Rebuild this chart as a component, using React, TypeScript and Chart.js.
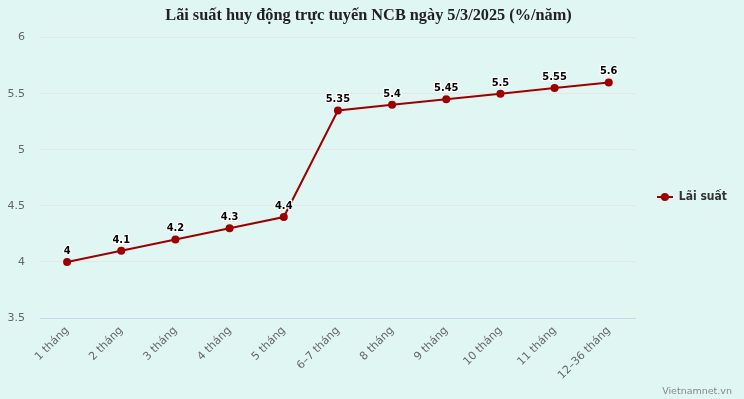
import React, { useEffect, useRef } from "react";
import { Chart, registerables } from "chart.js";

Chart.register(...registerables);

const TITLE = "Lãi suất huy động trực tuyến NCB ngày 5/3/2025 (%/năm)";
const SERIES_NAME = "Lãi suất";
const CREDIT = "Vietnamnet.vn";
const categories = [
  "1 tháng",
  "2 tháng",
  "3 tháng",
  "4 tháng",
  "5 tháng",
  "6–7 tháng",
  "8 tháng",
  "9 tháng",
  "10 tháng",
  "11 tháng",
  "12–36 tháng",
];
const rates = [4, 4.1, 4.2, 4.3, 4.4, 5.35, 5.4, 5.45, 5.5, 5.55, 5.6];
const Y_MIN = 3.5;
const Y_MAX = 6;
const Y_STEP = 0.5;

const BG = "#dff6f2";
const LINE = "#9c0000";
const FONT = "'DejaVu Sans', Verdana, sans-serif";
const BOLD_FONT = "'DejaVu Sans Condensed', 'DejaVu Sans', Verdana, sans-serif";

function makeLegendSymbol(): HTMLCanvasElement {
  const c = document.createElement("canvas");
  c.width = 16;
  c.height = 10;
  const g = c.getContext("2d")!;
  g.strokeStyle = LINE;
  g.lineWidth = 2;
  g.beginPath();
  g.moveTo(0, 5);
  g.lineTo(16, 5);
  g.stroke();
  g.fillStyle = LINE;
  g.beginPath();
  g.arc(8, 5, 4, 0, Math.PI * 2);
  g.fill();
  return c;
}

const dataLabelPlugin = {
  id: "dataLabels",
  afterDatasetsDraw(chart: any) {
    const ctx = chart.ctx;
    const meta = chart.getDatasetMeta(0);
    const data = chart.data.datasets[0].data as number[];
    ctx.save();
    ctx.font = `bold 11px ${BOLD_FONT}`;
    ctx.textAlign = "center";
    ctx.textBaseline = "middle";
    ctx.lineJoin = "round";
    meta.data.forEach((pt: any, i: number) => {
      const txt = String(data[i]);
      const x = pt.x;
      const y = pt.y - 11;
      ctx.strokeStyle = "#ffffff";
      ctx.lineWidth = 2.5;
      ctx.strokeText(txt, x, y);
      ctx.fillStyle = "#000000";
      ctx.fillText(txt, x, y);
    });
    ctx.restore();
  },
};

const bgPlugin = {
  id: "bgFill",
  beforeDraw(chart: any) {
    const ctx = chart.ctx;
    ctx.save();
    ctx.fillStyle = BG;
    ctx.fillRect(0, 0, chart.width, chart.height);
    ctx.restore();
  },
  afterDraw(chart: any) {
    const ctx = chart.ctx;
    ctx.save();
    ctx.font = `9.5px ${FONT}`;
    ctx.fillStyle = "#888888";
    ctx.textAlign = "right";
    ctx.textBaseline = "alphabetic";
    ctx.fillText(CREDIT, 732, 394);
    ctx.restore();
  },
};

export default function App() {
  const ref = useRef<HTMLCanvasElement | null>(null);

  useEffect(() => {
    document.body.style.margin = "0";
    const canvas = ref.current!;
    const symbol = makeLegendSymbol();
    const chart = new Chart(canvas, {
      type: "line",
      data: {
        labels: categories,
        datasets: [
          {
            label: SERIES_NAME,
            data: rates,
            borderColor: LINE,
            backgroundColor: LINE,
            borderWidth: 2,
            pointRadius: 4,
            pointHoverRadius: 4,
            pointBorderWidth: 0,
            pointBackgroundColor: LINE,
            tension: 0,
          },
        ],
      },
      options: {
        responsive: false,
        animation: false,
        events: [],
        layout: { padding: { left: 0, right: 7, top: 0, bottom: 5 } },
        plugins: {
          title: {
            display: true,
            text: TITLE,
            color: "#222222",
            font: { family: "'Liberation Serif', 'Times New Roman', serif", size: 16.3, weight: "bold" },
            padding: { top: 6, bottom: 12 },
          },
          legend: {
            display: true,
            position: "right",
            align: "center",
            labels: {
              usePointStyle: true,
              pointStyle: symbol as any,
              pointStyleWidth: 16,
              padding: 21,
              color: "#333333",
              font: { family: BOLD_FONT, size: 12, weight: "bold" },
            },
          },
          tooltip: { enabled: false },
        },
        scales: {
          x: {
            type: "category",
            offset: true,
            grid: { display: false, drawTicks: false },
            border: { display: true, color: "#ccd6eb", width: 1 },
            ticks: {
              color: "#666666",
              font: { family: FONT, size: 11 },
              minRotation: 45,
              maxRotation: 45,
              autoSkip: false,
              padding: 6,
            },
            afterFit(scale: any) {
              scale.height = 76;
            },
          },
          y: {
            min: Y_MIN,
            max: Y_MAX,
            grid: { color: "#e6e6e6", lineWidth: 1, drawTicks: false },
            border: { display: false },
            ticks: {
              stepSize: Y_STEP,
              color: "#666666",
              font: { family: FONT, size: 11 },
              padding: 15,
              callback: (v: any) => String(v),
            },
            afterFit(scale: any) {
              scale.width = 40;
            },
          },
        },
      },
      plugins: [bgPlugin, dataLabelPlugin],
    });
    return () => chart.destroy();
  }, []);

  return (
    <div style={{ position: "fixed", left: 0, top: 0, width: 744, height: 399, background: BG }}>
      <canvas ref={ref} width={744} height={399} style={{ display: "block" }} />
    </div>
  );
}
